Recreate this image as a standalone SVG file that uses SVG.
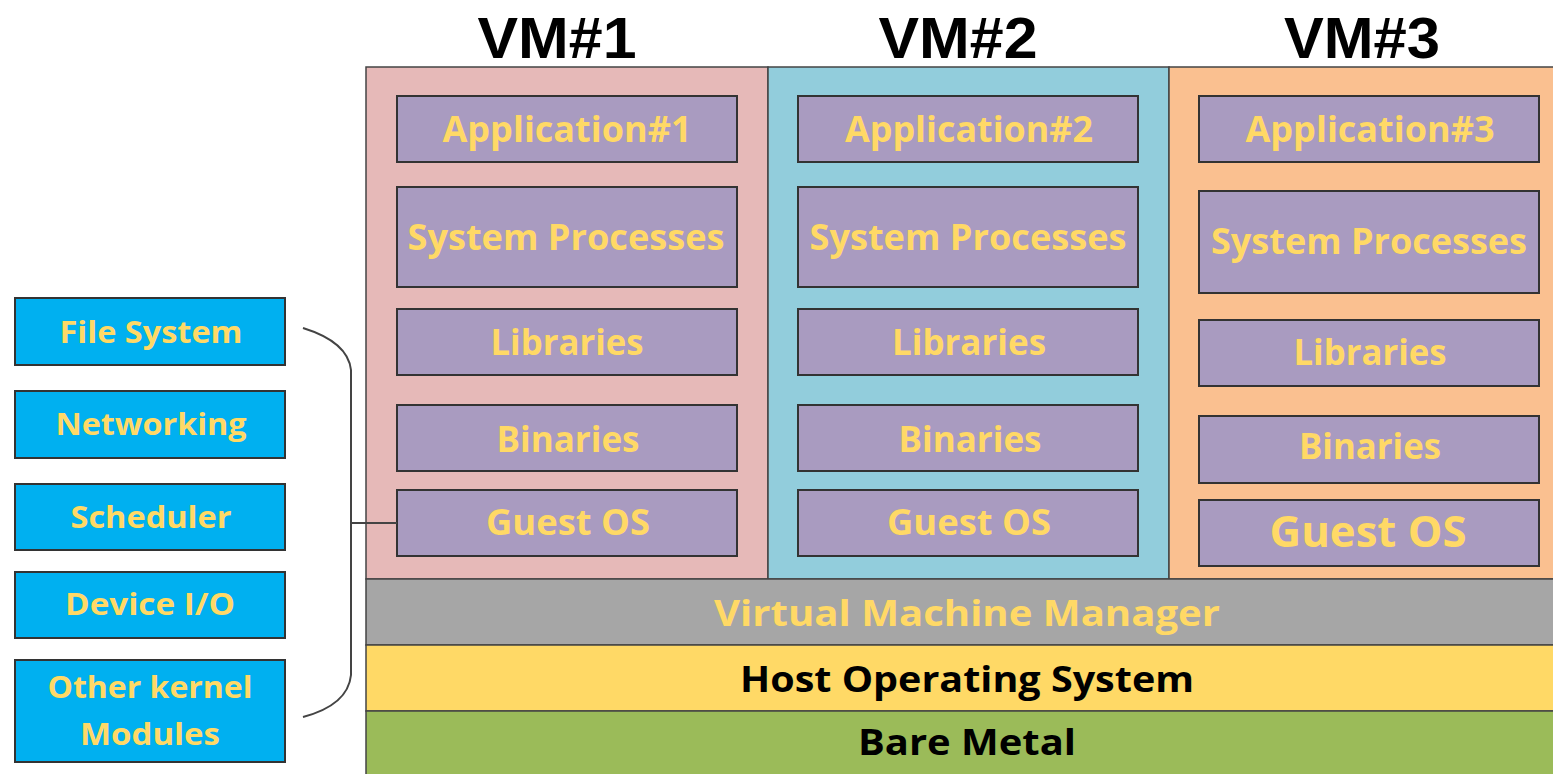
<svg xmlns="http://www.w3.org/2000/svg" width="1553" height="774" viewBox="0 0 1553 774">
<style>
text{font-family:"Open Sans","Liberation Sans",sans-serif;font-weight:bold;text-anchor:middle}
.box{fill:#a99bc0;stroke:#333;stroke-width:2}
.yt{fill:#ffd966;font-size:36px}
.side{fill:#00b0f0;stroke:#333;stroke-width:2}
.st{fill:#ffd966;font-size:31px}
.title{fill:#000;font-size:57px;font-family:"Liberation Sans","Open Sans",sans-serif}
.layer{stroke:#444;stroke-width:1.5}
.bt{fill:#000;font-size:36px}
.conn{fill:none;stroke:#444;stroke-width:2}
</style>
<rect width="1553" height="774" fill="#fff"/>
<g id="titles">
<text class="title" x="557" y="58" textLength="159" lengthAdjust="spacingAndGlyphs">VM#1</text>
<text class="title" x="958" y="58" textLength="159" lengthAdjust="spacingAndGlyphs">VM#2</text>
<text class="title" x="1362" y="58" textLength="156" lengthAdjust="spacingAndGlyphs">VM#3</text>
</g>
<g id="vm1">
<rect class="layer" x="366" y="67" width="402" height="512" fill="#e6b9b8"/>
<g id="app1"><rect class="box" x="397" y="96" width="340" height="66"/><text class="yt" x="567" y="142" textLength="249" lengthAdjust="spacingAndGlyphs">Application#1</text></g>
<g id="sys1"><rect class="box" x="397" y="187" width="340" height="100"/><text class="yt" x="566" y="250" textLength="317" lengthAdjust="spacingAndGlyphs">System Processes</text></g>
<g id="lib1"><rect class="box" x="397" y="309" width="340" height="66"/><text class="yt" x="567" y="355" textLength="153" lengthAdjust="spacingAndGlyphs">Libraries</text></g>
<g id="bin1"><rect class="box" x="397" y="405" width="340" height="66"/><text class="yt" x="568" y="452" textLength="143" lengthAdjust="spacingAndGlyphs">Binaries</text></g>
<g id="guest1"><rect class="box" x="397" y="490" width="340" height="66"/><text class="yt" x="568" y="535" textLength="164" lengthAdjust="spacingAndGlyphs">Guest OS</text></g>
</g>
<g id="vm2">
<rect class="layer" x="768" y="67" width="401" height="512" fill="#92cddc"/>
<g id="app2"><rect class="box" x="798" y="96" width="340" height="66"/><text class="yt" x="969" y="142" textLength="248" lengthAdjust="spacingAndGlyphs">Application#2</text></g>
<g id="sys2"><rect class="box" x="798" y="187" width="340" height="100"/><text class="yt" x="968" y="250" textLength="317" lengthAdjust="spacingAndGlyphs">System Processes</text></g>
<g id="lib2"><rect class="box" x="798" y="309" width="340" height="66"/><text class="yt" x="969" y="355" textLength="154" lengthAdjust="spacingAndGlyphs">Libraries</text></g>
<g id="bin2"><rect class="box" x="798" y="405" width="340" height="66"/><text class="yt" x="970" y="452" textLength="143" lengthAdjust="spacingAndGlyphs">Binaries</text></g>
<g id="guest2"><rect class="box" x="798" y="490" width="340" height="66"/><text class="yt" x="969" y="535" textLength="164" lengthAdjust="spacingAndGlyphs">Guest OS</text></g>
</g>
<g id="vm3">
<rect class="layer" x="1169" y="67" width="390" height="512" fill="#fac090"/>
<g id="app3"><rect class="box" x="1199" y="96" width="340" height="66"/><text class="yt" x="1370" y="142" textLength="249" lengthAdjust="spacingAndGlyphs">Application#3</text></g>
<g id="sys3"><rect class="box" x="1199" y="191" width="340" height="102"/><text class="yt" x="1369" y="254" textLength="316" lengthAdjust="spacingAndGlyphs">System Processes</text></g>
<g id="lib3"><rect class="box" x="1199" y="320" width="340" height="66"/><text class="yt" x="1370" y="365" textLength="153" lengthAdjust="spacingAndGlyphs">Libraries</text></g>
<g id="bin3"><rect class="box" x="1199" y="416" width="340" height="67"/><text class="yt" x="1370" y="459" textLength="142" lengthAdjust="spacingAndGlyphs">Binaries</text></g>
<g id="guest3"><rect class="box" x="1199" y="500" width="340" height="66"/><text class="yt" x="1368" y="547" style="font-size:43px" textLength="197" lengthAdjust="spacingAndGlyphs">Guest OS</text></g>
</g>
<g id="vmm">
<rect class="layer" x="366" y="579" width="1193" height="66" fill="#a6a6a6"/>
<text class="yt" x="967" y="626" textLength="506" lengthAdjust="spacingAndGlyphs">Virtual Machine Manager</text>
</g>
<g id="hostos">
<rect class="layer" x="366" y="645" width="1193" height="66" fill="#ffd966"/>
<text class="bt" x="967" y="692" textLength="454" lengthAdjust="spacingAndGlyphs">Host Operating System</text>
</g>
<g id="baremetal">
<rect class="layer" x="366" y="711" width="1193" height="70" fill="#9bbb59"/>
<text class="bt" x="967" y="755" textLength="218" lengthAdjust="spacingAndGlyphs">Bare Metal</text>
</g>
<g id="filesystem"><rect class="side" x="15" y="298" width="270" height="67"/><text class="st" x="151" y="343" textLength="183" lengthAdjust="spacingAndGlyphs">File System</text></g>
<g id="networking"><rect class="side" x="15" y="391" width="270" height="67"/><text class="st" x="151" y="435" textLength="191" lengthAdjust="spacingAndGlyphs">Networking</text></g>
<g id="scheduler"><rect class="side" x="15" y="484" width="270" height="66"/><text class="st" x="151" y="528" textLength="161" lengthAdjust="spacingAndGlyphs">Scheduler</text></g>
<g id="deviceio"><rect class="side" x="15" y="572" width="270" height="66"/><text class="st" x="150" y="615" textLength="170" lengthAdjust="spacingAndGlyphs">Device I/O</text></g>
<g id="otherkernel"><rect class="side" x="15" y="660" width="270" height="102"/><text class="st" x="150" y="698" textLength="205" lengthAdjust="spacingAndGlyphs">Other kernel</text><text class="st" x="150" y="745" textLength="140" lengthAdjust="spacingAndGlyphs">Modules</text></g>
<g id="connectors">
<path class="conn" d="M303,328 Q348,342 351,370 L351,675 Q348,705 303,717"/>
<path class="conn" d="M351,523 L397,523"/>
</g>
</svg>
